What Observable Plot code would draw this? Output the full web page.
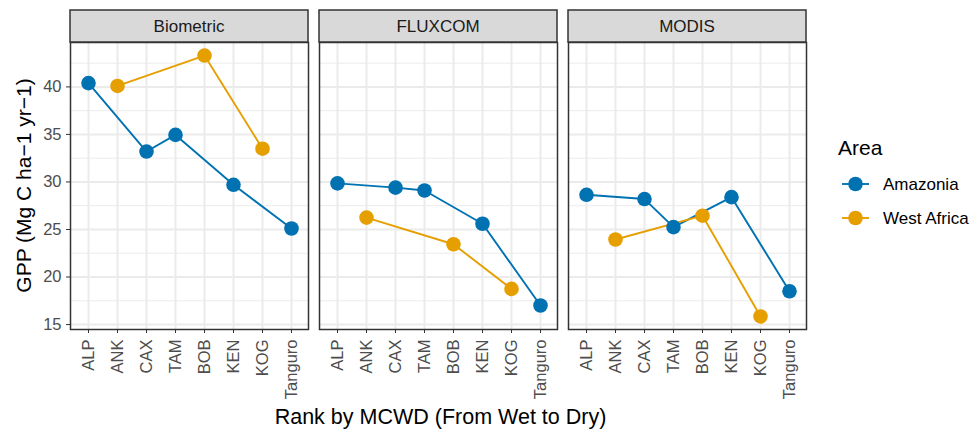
<!DOCTYPE html>
<html>
<head>
<meta charset="utf-8">
<script src="https://cdn.jsdelivr.net/npm/d3@7"></script>
<script src="https://cdn.jsdelivr.net/npm/@observablehq/plot@0.6"></script>
<style>
  html, body { margin: 0; padding: 0; background: white; }
  #chart { width: 971px; height: 430px; }
</style>
</head>
<body>
<div id="chart"></div>
<script>
// ---- data ----
const sites = ["ALP", "ANK", "CAX", "TAM", "BOB", "KEN", "KOG", "Tanguro"];
const products = ["Biometric", "FLUXCOM", "MODIS"];
const areas = ["Amazonia", "West Africa"];
const areaColors = ["#0072B2", "#E69F00"];
const amazoniaSites = ["ALP", "CAX", "TAM", "KEN", "Tanguro"];
const westAfricaSites = ["ANK", "BOB", "KOG"];
const biometricAmazonia = [40.4, 33.2, 34.95, 29.7, 25.1];
const biometricWestAfrica = [40.1, 43.3, 33.5];
const fluxcomAmazonia = [29.85, 29.4, 29.1, 25.6, 17.0];
const fluxcomWestAfrica = [26.25, 23.45, 18.75];
const modisAmazonia = [28.65, 28.2, 25.25, 28.4, 18.5];
const modisWestAfrica = [23.95, 26.45, 15.85];
const yTicks = [15, 20, 25, 30, 35, 40];
const yMinor = [17.5, 22.5, 27.5, 32.5, 37.5, 42.5];
const yTitle = "GPP (Mg C ha\u22121 yr\u22121)";
const xTitle = "Rank by MCWD (From Wet to Dry)";
const legendTitle = "Area";

// build tidy table
const series = [
  ["Biometric", "Amazonia", amazoniaSites, biometricAmazonia],
  ["Biometric", "West Africa", westAfricaSites, biometricWestAfrica],
  ["FLUXCOM", "Amazonia", amazoniaSites, fluxcomAmazonia],
  ["FLUXCOM", "West Africa", westAfricaSites, fluxcomWestAfrica],
  ["MODIS", "Amazonia", amazoniaSites, modisAmazonia],
  ["MODIS", "West Africa", westAfricaSites, modisWestAfrica]
];
const data = [];
for (const [product, area, ss, vals] of series) {
  ss.forEach((s, i) => data.push({product, area, site: s, gpp: vals[i]}));
}

const allVals = data.map(d => d.gpp);
const lo = d3.min(allVals), hi = d3.max(allVals);
const ex = (hi - lo) * 0.05;

const W = 971, H = 430;
const mL = 69, mR = 165, mT = 42, mB = 101;
const FONT = "'Liberation Sans', Arial, Helvetica, sans-serif";

const plot = Plot.plot({
  width: W,
  height: H,
  marginLeft: mL,
  marginRight: mR,
  marginTop: mT,
  marginBottom: mB,
  style: {fontFamily: FONT, fontSize: "16.5px", color: "#4D4D4D", background: "white", overflow: "visible"},
  fx: {domain: products, paddingInner: 0.046, paddingOuter: 0, axis: null, label: null},
  x: {type: "point", domain: sites, padding: 0.6, label: null},
  y: {domain: [lo - ex, hi + ex], label: null},
  color: {domain: areas, range: areaColors},
  marks: [
    Plot.ruleY(yMinor, {stroke: "#EBEBEB", strokeWidth: 1}),
    Plot.ruleY(yTicks, {stroke: "#EBEBEB", strokeWidth: 2}),
    Plot.ruleX(sites, {stroke: "#EBEBEB", strokeWidth: 2}),
    Plot.frame({stroke: "#333333", strokeWidth: 1.5}),
    Plot.axisY(yTicks, {tickSize: 4, tickPadding: 5, stroke: "#333333", fill: "#4D4D4D", label: null}),
    Plot.axisX({tickSize: 4, tickPadding: 6, tickRotate: -90, stroke: "#333333", fill: "#4D4D4D", label: null}),
    Plot.line(data, {fx: "product", x: "site", y: "gpp", z: "area", stroke: "area", strokeWidth: 1.9}),
    Plot.dot(data, {fx: "product", x: "site", y: "gpp", fill: "area", r: 7.3})
  ]
});

document.getElementById("chart").appendChild(plot);

// enlarge Plot's own tick labels
const svg = d3.select(plot);
svg.selectAll("text").attr("font-size", null).style("font-size", "16.5px");
svg.selectAll("g").attr("font-size", null);

// ---- strips, titles, legend ----
const fx = plot.scale("fx");
const color = plot.scale("color");
const bw = fx.bandwidth;
const strips = svg.append("g");
products.forEach(p => {
  const x0 = fx.apply(p);
  strips.append("rect")
    .attr("x", x0).attr("y", 10).attr("width", bw).attr("height", mT - 10)
    .attr("fill", "#D9D9D9").attr("stroke", "#333333").attr("stroke-width", 1.5);
  strips.append("text")
    .attr("x", x0 + bw / 2).attr("y", (10 + mT) / 2).attr("dy", "0.35em")
    .attr("text-anchor", "middle").attr("fill", "#1A1A1A")
    .style("font-size", "17px").style("font-family", FONT)
    .text(p);
});

svg.append("text")
  .attr("transform", `translate(30.5,${(mT + H - mB) / 2}) rotate(-90)`)
  .attr("text-anchor", "middle").attr("fill", "#000")
  .style("font-size", "21px").style("font-family", FONT)
  .text(yTitle);

svg.append("text")
  .attr("x", (mL + W - mR) / 2 + 3).attr("y", 424)
  .attr("text-anchor", "middle").attr("fill", "#000")
  .style("font-size", "21.5px").style("font-family", FONT)
  .text(xTitle);

const lg = svg.append("g").attr("transform", "translate(838,0)");
lg.append("text").attr("x", 0).attr("y", 155).attr("text-anchor", "start")
  .attr("fill", "#000").style("font-size", "21px").style("font-family", FONT)
  .text(legendTitle);
areas.forEach((a, i) => {
  const cy = 184 + i * 34;
  lg.append("line").attr("x1", 4).attr("x2", 31).attr("y1", cy).attr("y2", cy)
    .attr("stroke", color.apply(a)).attr("stroke-width", 1.9);
  lg.append("circle").attr("cx", 17.5).attr("cy", cy).attr("r", 7.3).attr("fill", color.apply(a));
  lg.append("text").attr("x", 45).attr("y", cy).attr("dy", "0.36em").attr("text-anchor", "start")
    .attr("fill", "#000").style("font-size", "17px").style("font-family", FONT)
    .text(a);
});
</script>
</body>
</html>
